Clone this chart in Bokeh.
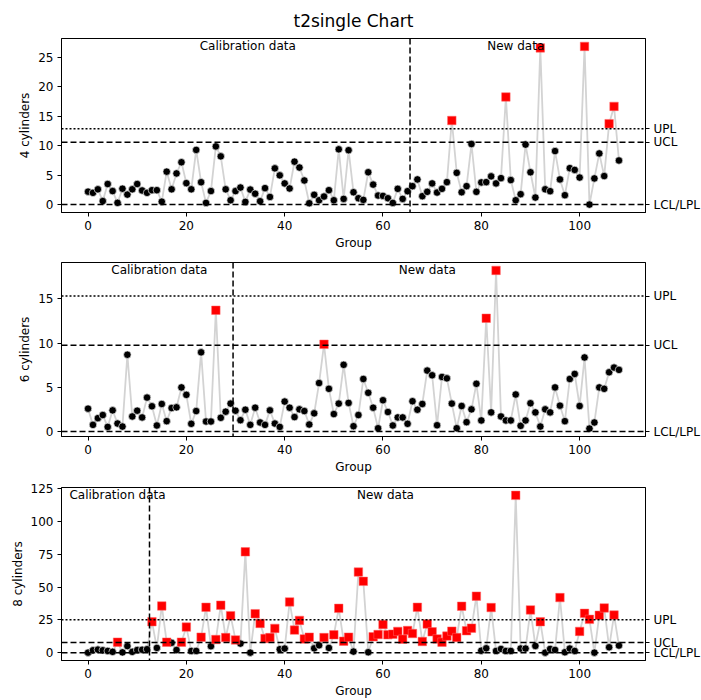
from bokeh.plotting import figure
from bokeh.models import Span, Label, LinearAxis, FixedTicker, CustomJSTickFormatter, Range1d
from bokeh.layouts import column
from bokeh.embed import file_html
from bokeh.resources import INLINE

groups = list(range(109))

cyl4 = [2.2, 2.0, 2.6, 0.6, 3.5, 2.3, 0.3, 2.7, 1.7, 2.6,
        3.5, 2.4, 2.0, 2.45, 2.45, 0.5, 5.6, 2.6, 5.3, 7.2,
        3.65, 2.6, 9.3, 3.8, 0.29, 2.3, 9.9, 8.2, 2.6, 0.74,
        2.3, 2.9, 0.46, 2.55, 1.85, 0.57, 2.8, 1.3, 6.16, 4.97,
        3.6, 2.74, 7.3, 6.3, 4.1, 0.23, 1.66, 0.74, 1.37, 2.45,
        0.74, 9.4, 0.97, 9.25, 2.1, 1.08, 0.8, 5.5, 3.4, 1.54,
        1.48, 1.08, 0.29, 2.68, 0.97, 2.28, 3.14, 4.28, 1.43, 2.17,
        3.6, 2.05, 2.68, 3.82, 14.3, 5.4, 2.1, 3.14, 10.3, 2.17,
        3.77, 3.82, 4.8, 3.6, 4.5, 18.3, 4.17, 0.74, 1.77, 10.2,
        5.5, 1.2, 26.65, 2.6, 2.28, 9.1, 4.28, 1.6, 6.2, 5.9,
        4.6, 26.9, 0.0, 4.45, 8.7, 4.85, 13.76, 16.7, 7.5]

cyl6 = [2.59, 0.76, 1.52, 1.87, 0.53, 2.4, 0.91, 0.57, 8.68, 1.71,
        2.36, 1.6, 3.84, 2.86, 0.69, 3.12, 1.18, 2.66, 2.74, 4.99,
        4.15, 0.88, 2.32, 8.95, 1.14, 1.14, 13.7, 1.56, 2.25, 3.16,
        2.36, 1.29, 2.47, 0.76, 2.7, 1.03, 0.76, 2.4, 0.91, 0.53,
        3.39, 2.7, 1.64, 2.51, 2.32, 0.8, 2.06, 5.48, 9.86, 4.83,
        1.98, 3.16, 7.54, 3.24, 0.61, 1.87, 5.94, 4.38, 2.7, 0.38,
        3.54, 2.21, 0.69, 1.6, 1.6, 0.88, 3.43, 2.47, 3.12, 6.89,
        6.36, 0.72, 6.17, 6.01, 3.16, 0.38, 2.89, 1.07, 2.51, 5.4,
        1.26, 12.8, 2.17, 18.2, 1.71, 1.26, 1.26, 4.19, 0.65, 1.26,
        3.2, 2.17, 0.57, 2.51, 2.17, 4.99, 2.93, 1.18, 5.94, 6.51,
        2.89, 8.37, 0.34, 1.03, 4.99, 4.83, 6.7, 7.23, 6.97]

cyl8 = [0.0, 1.8, 2.3, 1.8, 1.3, 0.6, 8.0, 0.2, 5.0, 0.6,
        2.0, 2.2, 2.6, 23.6, 3.6, 35.6, 8.0, 7.5, 2.0, 8.0,
        19.5, 1.3, 1.3, 11.8, 34.6, 4.9, 10.0, 36.2, 11.5, 28.2,
        9.7, 6.9, 76.9, 0.0, 29.7, 22.3, 10.8, 11.5, 18.5, 2.6,
        3.1, 38.7, 17.2, 24.6, 10.5, 11.8, 3.3, 5.6, 11.5, 3.6,
        13.6, 33.8, 8.7, 11.8, 0.8, 61.5, 54.4, 0.3, 12.1, 13.8,
        21.5, 13.6, 14.1, 16.2, 10.3, 16.9, 14.6, 34.6, 8.5, 21.8,
        15.9, 10.5, 8.0, 12.6, 16.4, 11.5, 35.4, 16.7, 18.7, 43.1,
        1.5, 3.3, 34.4, 1.3, 2.8, 1.3, 1.3, 120.0, 3.1, 3.1,
        32.6, 5.1, 23.6, 0.0, 2.8, 2.1, 42.0, 0.3, 3.1, 1.3,
        16.2, 30.0, 25.4, 0.0, 28.5, 34.1, 4.1, 28.7, 5.4]

series = [cyl4, cyl6, cyl8]
n_calib = [66, 30, 13]
ucl = [10.6, 9.75, 7.7]
upl = [12.9, 15.3, 25.1]
lcl = [0.0, 0.0, 0.0]
ylabels = ["4 cylinders", "6 cylinders", "8 cylinders"]
yticks = [[0, 5, 10, 15, 20, 25], [0, 5, 10, 15], [0, 25, 50, 75, 100, 125]]
xticks = [0, 20, 40, 60, 80, 100]
title = "t2single Chart"

FONT = "DejaVu Sans"
FS = "12px"

borders_top = [38, 10, 11]
frame_heights = [174, 174, 173]


def make_panel(k):
    vals = series[k]
    x0, x1 = min(groups), max(groups)
    xm = 0.05 * (x1 - x0)
    lo_d = min(vals)
    hi_d = max(vals)
    ym = 0.05 * (hi_d - lo_d)
    p = figure(frame_width=584, frame_height=frame_heights[k],
               x_range=Range1d(x0 - xm, x1 + xm),
               y_range=Range1d(lo_d - ym, hi_d + ym),
               output_backend="svg", toolbar_location=None,
               min_border_left=61, min_border_right=56,
               min_border_top=borders_top[k], min_border_bottom=40,
               background_fill_color="white", border_fill_color="white")
    p.xgrid.visible = False
    p.ygrid.visible = False
    p.outline_line_color = "black"
    p.outline_line_width = 1

    p.xaxis.ticker = FixedTicker(ticks=xticks)
    p.yaxis.ticker = FixedTicker(ticks=yticks[k])
    p.xaxis.axis_label = "Group"
    p.yaxis.axis_label = ylabels[k]

    # control limit lines
    for loc, dash in [(lcl[k], "6 3"), (ucl[k], "6 3"), (upl[k], "2 2")]:
        p.add_layout(Span(location=loc, dimension="width", line_color="black",
                          line_width=1.5, line_dash=dash))
    p.add_layout(Span(location=n_calib[k] - 0.5, dimension="height", line_color="black",
                      line_width=1.5, line_dash="6 3"))

    p.line(groups, vals, line_color="#d3d3d3", line_width=1.8)
    ok_x = [g for g, v in zip(groups, vals) if v <= ucl[k]]
    ok_y = [v for v in vals if v <= ucl[k]]
    bad_x = [g for g, v in zip(groups, vals) if v > ucl[k]]
    bad_y = [v for v in vals if v > ucl[k]]
    p.scatter(ok_x, ok_y, marker="circle", size=7.5, fill_color="black",
              line_color="#e6e6e6", line_width=0.7)
    p.scatter(bad_x, bad_y, marker="square", size=8.5, fill_color="red",
              line_color="#ff6666", line_width=0.5)

    top = p.y_range.end
    for xpos, txt in [((n_calib[k] - 1) / 2, "Calibration data"),
                      ((n_calib[k] + x1) / 2, "New data")]:
        p.add_layout(Label(x=xpos, y=top, text=txt,
                           text_align="center", text_baseline="top", y_offset=0,
                           text_font=FONT, text_font_size=FS, text_color="black"))

    ra = LinearAxis(ticker=FixedTicker(ticks=[lcl[k], ucl[k], upl[k]]),
                    formatter=CustomJSTickFormatter(
                        args=dict(u=ucl[k], up=upl[k]),
                        code="if (Math.abs(tick - u) < 1e-9) { return 'UCL'; }"
                             " if (Math.abs(tick - up) < 1e-9) { return 'UPL'; }"
                             " return 'LCL/LPL';"))
    p.add_layout(ra, "right")

    for ax in p.axis:
        ax.major_tick_in = 0
        ax.major_tick_out = 4
        ax.minor_tick_line_color = None
        ax.axis_line_color = "black"
        ax.major_tick_line_color = "black"
        ax.major_label_standoff = 4
        ax.major_label_text_font = FONT
        ax.major_label_text_font_size = FS
        ax.major_label_text_color = "black"
        ax.axis_label_text_font = FONT
        ax.axis_label_text_font_size = FS
        ax.axis_label_text_font_style = "normal"
        ax.axis_label_text_color = "black"
        ax.axis_label_standoff = 3

    if k == 0:
        p.title.text = title
        p.title.align = "center"
        p.title.text_font = FONT
        p.title.text_font_size = "17px"
        p.title.text_font_style = "normal"
        p.title.text_color = "black"
        p.title.standoff = 15
    return p


panels = [make_panel(k) for k in range(3)]
layout = column(*panels, spacing=0)

open("out.html", "w").write(file_html(layout, INLINE))
